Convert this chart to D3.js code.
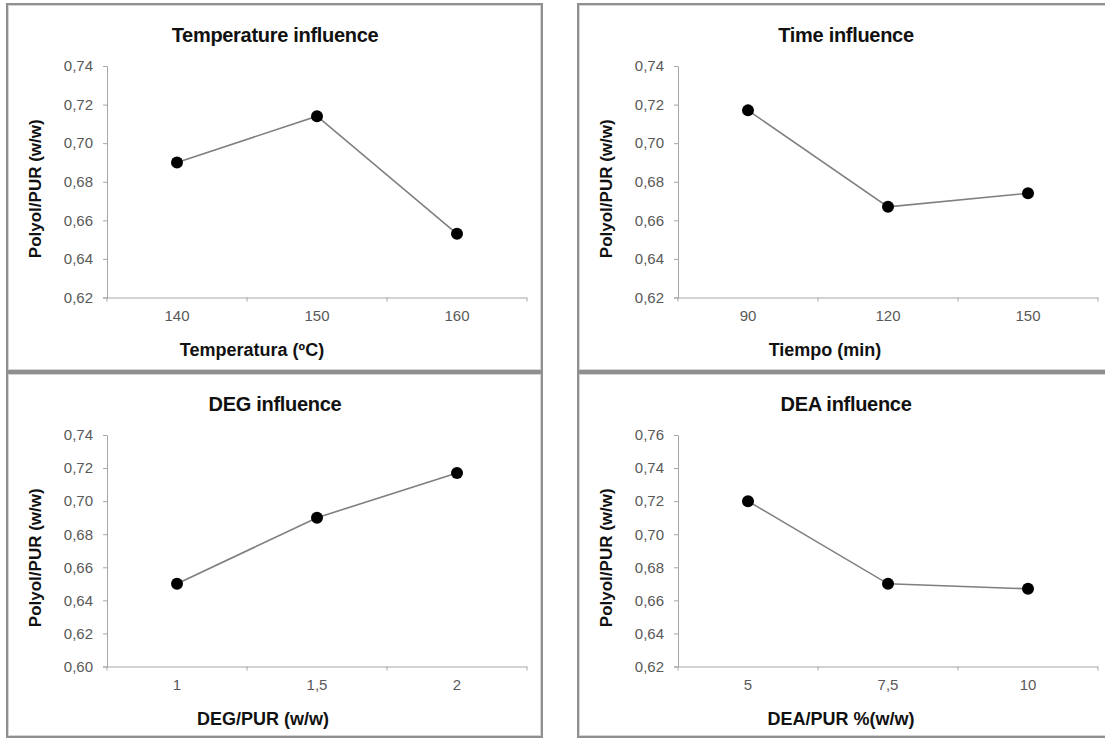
<!DOCTYPE html>
<html>
<head>
<meta charset="utf-8">
<script src="https://cdn.jsdelivr.net/npm/d3@7"></script>
<style>
  body { margin: 0; background: #fff; }
  svg { display: block; font-family: "Liberation Sans", Arial, sans-serif; }
</style>
</head>
<body>
<svg id="chart" width="1105" height="738"></svg>
<script>
// data
var tempCategories = ["140", "150", "160"];
var tempValues = [0.690, 0.714, 0.653];

var timeCategories = ["90", "120", "150"];
var timeValues = [0.717, 0.667, 0.674];

var degCategories = ["1", "1,5", "2"];
var degValues = [0.650, 0.690, 0.717];

var deaCategories = ["5", "7,5", "10"];
var deaValues = [0.720, 0.670, 0.667];

var yTicksStd = [0.62, 0.64, 0.66, 0.68, 0.70, 0.72, 0.74];
var yTicksDEG = [0.60, 0.62, 0.64, 0.66, 0.68, 0.70, 0.72, 0.74];
var yTicksDEA = [0.62, 0.64, 0.66, 0.68, 0.70, 0.72, 0.74, 0.76];

var titles = ["Temperature influence", "Time influence", "DEG influence", "DEA influence"];
var xTitles = ["Temperatura (ºC)", "Tiempo  (min)", "DEG/PUR (w/w)", "DEA/PUR %(w/w)"];
var yTitle = "Polyol/PUR (w/w)";

// comma decimal like the original
var loc = d3.formatLocale({decimal: ",", thousands: ".", grouping: [3], currency: ["", ""]});
var fmt = loc.format(".2f");

var svg = d3.select("#chart");

// panel frames and their contents
var panels = [
  {x: 7,   y: 4,   h: 367, cats: tempCategories, vals: tempValues, ticks: yTicksStd, xtc: 245},
  {x: 578, y: 4,   h: 367, cats: timeCategories, vals: timeValues, ticks: yTicksStd, xtc: 247},
  {x: 7,   y: 373, h: 364, cats: degCategories,  vals: degValues,  ticks: yTicksDEG, xtc: 256},
  {x: 578, y: 373, h: 364, cats: deaCategories,  vals: deaValues,  ticks: yTicksDEA, xtc: 263}
];

panels.forEach(function(p, i) {
  var g = svg.append("g").attr("transform", "translate(" + p.x + "," + p.y + ")");

  // frame
  g.append("rect").attr("x", 0).attr("y", 0).attr("width", 535).attr("height", p.h)
    .attr("fill", "none").attr("stroke", "#8f8f8f").attr("stroke-width", 2);
  g.append("rect").attr("x", 1.5).attr("y", 1.5).attr("width", 532).attr("height", p.h - 3)
    .attr("fill", "none").attr("stroke", "#d4d4d4").attr("stroke-width", 1);

  var left = 100, top = 62, w = 420, h = 231.5;

  var x = d3.scaleBand().domain(p.cats).range([left, left + w]);
  var y = d3.scaleLinear().domain([p.ticks[0], p.ticks[p.ticks.length - 1]]).range([top + h, top]);

  // title
  g.append("text").attr("x", 268).attr("y", 38)
    .attr("text-anchor", "middle").style("font-size", "20px").style("font-weight", "bold")
    .style("letter-spacing", "-0.3px").attr("fill", "#111").text(titles[i]);

  // y axis
  var yAxis = g.append("g").attr("transform", "translate(" + left + ",0)")
    .call(d3.axisLeft(y).tickValues(p.ticks).tickFormat(fmt).tickSize(4).tickPadding(10).tickSizeOuter(0));
  yAxis.select(".domain").attr("stroke", "#a6a6a6");
  yAxis.selectAll(".tick line").attr("stroke", "#a6a6a6");
  yAxis.selectAll("text").style("font-size", "15px").style("font-family", "'Liberation Sans', Arial, sans-serif")
    .attr("fill", "#595959");

  // x axis: labels centred in bands, tick marks on band edges (Excel style)
  var xAxis = g.append("g").attr("transform", "translate(0," + (top + h) + ")")
    .call(d3.axisBottom(x).tickSize(0).tickPadding(13));
  xAxis.select(".domain").attr("stroke", "#a6a6a6").attr("d", "M" + (left - 4) + ",0.5H" + (left + w));
  xAxis.selectAll("text").style("font-size", "15px").style("font-family", "'Liberation Sans', Arial, sans-serif")
    .attr("fill", "#595959");
  var edges = p.cats.map(function(c) { return x(c); }).concat([x.range()[1]]);
  xAxis.selectAll(".edge").data(edges).enter().append("line")
    .attr("class", "edge")
    .attr("x1", function(d) { return d; }).attr("x2", function(d) { return d; })
    .attr("y1", 0).attr("y2", 4).attr("stroke", "#a6a6a6");

  // axis titles
  g.append("text").attr("x", p.xtc).attr("y", 352)
    .attr("text-anchor", "middle").style("font-size", "18px").style("font-weight", "bold")
    .attr("fill", "#111").text(xTitles[i]);
  g.append("text").attr("transform", "translate(28," + (top + h / 2 + 7) + ") rotate(-90)")
    .attr("dy", "0.35em").attr("text-anchor", "middle").style("font-size", "17px").style("font-weight", "bold")
    .attr("fill", "#111").text(yTitle);

  // series
  var pts = p.cats.map(function(c, k) { return [x(c) + x.bandwidth() / 2, y(p.vals[k])]; });
  g.append("path").attr("d", d3.line()(pts))
    .attr("fill", "none").attr("stroke", "#7f7f7f").attr("stroke-width", 1.6);
  g.selectAll(".pt").data(pts).enter().append("circle")
    .attr("class", "pt")
    .attr("cx", function(d) { return d[0]; })
    .attr("cy", function(d) { return d[1]; })
    .attr("r", 6).attr("fill", "#000");
});
</script>
</body>
</html>
